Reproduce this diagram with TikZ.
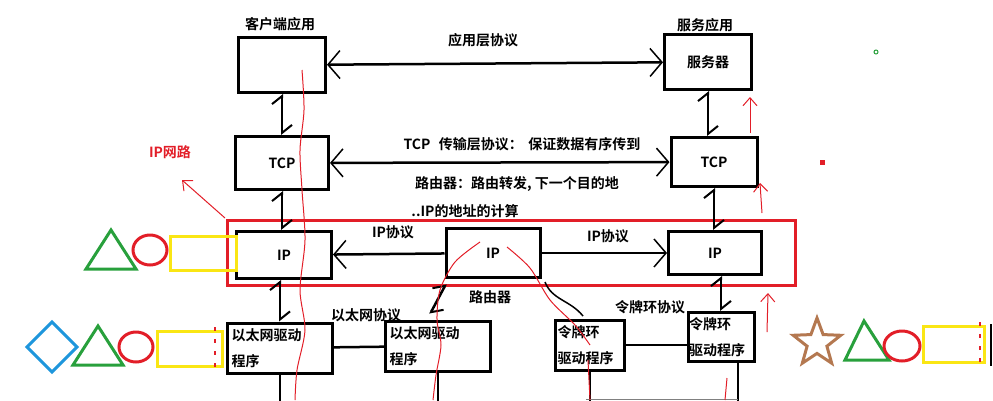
\documentclass[tikz,border=0pt]{standalone}
\usepackage{fontspec}
\setmainfont{Noto Sans CJK SC}[BoldFont={Noto Sans CJK SC Bold}]
\usetikzlibrary{arrows.meta,shapes.geometric}
\definecolor{hred}{RGB}{226,30,40}
\definecolor{hyellow}{RGB}{250,230,20}
\definecolor{hgreen}{RGB}{40,160,60}
\definecolor{hblue}{RGB}{30,150,220}
\definecolor{hbrown}{RGB}{180,120,80}
\newcommand{\lblsize}{\fontsize{14pt}{17pt}\selectfont\bfseries}
\tikzset{
  layer/.style={draw, line width=3pt, inner sep=0pt, font=\lblsize},
  proto/.style={line width=2.5pt, {Straight Barb[length=12pt,width=28pt,line width=1.5pt]}-{Straight Barb[length=12pt,width=28pt,line width=1.5pt]}},
  updown/.style={line width=2.5pt, {Straight Barb[left,length=8pt,width=20pt,line width=2pt]}-{Straight Barb[left,length=8pt,width=20pt,line width=2pt]}},
  lbl/.style={font=\lblsize},
  scribble/.style={hred, line width=1pt},
}
\begin{document}
\begin{tikzpicture}[x=1pt,y=-1pt]
\useasboundingbox (0,0) rectangle (993,400);
            % ip layer frame
            \draw[hred,line width=3pt] (227,220) rectangle (795,285);
            % boxes
            \node[layer,minimum width=87pt,minimum height=55pt] (cli) at (282,65) {};
            \node[layer,minimum width=87pt,minimum height=55pt] (srv) at (708,62) {服务器};
            \node[layer,minimum width=93pt,minimum height=53pt] (tcpL) at (282,163) {TCP};
            \node[layer,minimum width=86pt,minimum height=49pt] (tcpR) at (714,162) {TCP};
            \node[layer,minimum width=95pt,minimum height=47pt] (ipL) at (284,255) {IP};
            \node[layer,minimum width=94pt,minimum height=49pt] (ipM) at (493,253) {IP};
            \node[layer,minimum width=93pt,minimum height=43pt] (ipR) at (715,253) {IP};
            \node[layer,minimum width=105pt,minimum height=50pt,align=left,text width=97pt] (ethA) at (280,348) {以太网驱动\\[9pt]程序};
            \node[layer,minimum width=105pt,minimum height=50pt,align=left,text width=97pt] (ethB) at (438,346) {以太网驱动\\[9pt]程序};
            \node[layer,minimum width=69pt,minimum height=50pt,align=left,text width=65pt] (tokA) at (590,345) {令牌环\\[9pt]驱动程序};
            \node[layer,minimum width=66pt,minimum height=49pt,align=left,text width=64pt] (tokB) at (721,337) {令牌环\\[9pt]驱动程序};
            % labels
            \node[lbl] (cliT) at (280,24) {客户端应用};
            \node[lbl] (srvT) at (705,25) {服务应用};
            \node[lbl] (appP) at (483,40) {应用层协议};
            \node[lbl] (tcpP) at (522,144) {TCP\hspace{0.6em}传输层协议：\hspace{0.4em}保证数据有序传到};
            \node[lbl] (route) at (517,184) {路由器：路由转发, 下一个目的地};
            \node[lbl] (ipAddr) at (465,211) {..IP的地址的计算};
            \node[lbl] (ipP1) at (393,232) {IP协议};
            \node[lbl] (ipP2) at (608,236) {IP协议};
            \node[lbl] (rtr) at (490,297) {路由器};
            \node[lbl] (ethP) at (366,315) {以太网协议};
            \node[lbl] (tokP) at (650,307) {令牌环协议};
            \node[lbl,hred] (ipNet) at (170,152) {IP网路};
            % horizontal protocols
            \draw[proto] (cli) -- (srv);
            \draw[proto] (tcpL) -- (tcpR);
            \draw[line width=2.5pt,-{Straight Barb[length=12pt,width=28pt,line width=1.5pt]}] (ipM) -- (ipL);
            \draw[line width=2.5pt,-{Straight Barb[length=12pt,width=28pt,line width=1.5pt]}] (ipM) -- (ipR);
            \draw[line width=2.5pt] (ethA) -- (ethB);
            \draw[line width=2.5pt] (tokA.east) -- (tokB.west |- tokA.east);
            % vertical links
            \draw[updown] (tcpL.north -| cli.south) -- (cli.south);
            \draw[updown] (ipL.north -| tcpL.south) -- (tcpL.south);
            \draw[updown] (ethA.north) -- (ethA.north |- ipL.south);
            \draw[updown] (tcpR.north -| srv.south) -- (srv.south);
            \draw[updown] (ipR.north -| tcpR.south) -- (tcpR.south);
            \draw[updown] (tokB.north) -- (tokB.north |- ipR.south);
            \coordinate (m1) at (446,284);
            \coordinate (e1) at (430,314);
            \draw[updown] (e1) -- (m1);
            \draw[line width=1.5pt] (545,282) .. controls (552,300) and (570,300) .. (583,316);
            % lines to the bottom
            \draw[line width=2.5pt] (ethA.south) -- ++(0,30);
            \draw[line width=2.5pt] (ethB.south) -- ++(0,30);
            \draw[line width=2.5pt] (tokA.south) -- ++(0,30);
            \draw[line width=2.5pt] (tokB.south) ++(17,0) -- ++(0,40);
            \draw[gray,line width=1pt] (586,399) -- (738,399);
            % red sketch lines
            \draw[scribble] plot[smooth] coordinates {(302,70) (304,110) (300,150) (302,190) (305,240) (300,290) (305,330) (297,370) (295,400)};
            \draw[scribble] plot[smooth] coordinates {(480,242) (455,262) (440,290) (437,320) (441,345) (436,375) (433,400)};
            \draw[scribble] plot[smooth] coordinates {(507,247) (530,268) (550,300) (575,325) (590,345)};
            \draw[scribble] (588,360) -- (590,400);
            \draw[scribble] (727,378) -- (725,400);
            \draw[scribble,-{Straight Barb[length=8pt,width=14pt]}] (ipL.north west) ++(-10,-12) coordinate (r0) -- (182,180);
            \draw[scribble,-{Straight Barb[length=8pt,width=14pt]}] (750,133) -- (750,97);
            \draw[scribble,-{Straight Barb[length=8pt,width=14pt]}] (762,213) -- (760,183);
            \draw[scribble,-{Straight Barb[length=8pt,width=14pt]}] (767,332) -- (768,293);
            \fill[hred] (820,160) rectangle (825,165);
            \draw[hgreen,line width=1pt] (876,52) circle (2pt);
            % shapes on the left
            \draw[hgreen,line width=3pt] (86,269) -- (111,230) -- (136,269) -- cycle;
            \draw[hred,line width=3pt] (150,250) ellipse (17pt and 15pt);
            \draw[hyellow,line width=3pt] (170,236) rectangle (236,270);
            \draw[hblue,line width=3pt] (52,322) -- (77,347) -- (52,372) -- (27,347) -- cycle;
            \draw[hgreen,line width=3pt] (73,365) -- (98,326) -- (123,365) -- cycle;
            \draw[hred,line width=3pt] (136,347) ellipse (17pt and 15pt);
            \draw[hyellow,line width=3pt] (157,331) rectangle (222,366);
            \draw[hred,line width=2pt,dash pattern=on 4pt off 8pt] (215,327) -- (215,368);
            % shapes on the right
            \node[star,star points=5,star point ratio=2.4,draw=hbrown,line width=3pt,minimum size=50pt,inner sep=0pt] (st) at (817,343) {};
            \draw[hgreen,line width=3pt] (845,360) -- (864,321) -- (889,360) -- cycle;
            \draw[hred,line width=3pt] (902,346) ellipse (18pt and 15pt);
            \draw[hyellow,line width=3pt] (923,326) rectangle (984,362);
            \draw[hred,line width=2pt,dash pattern=on 4pt off 8pt] (980,322) -- (980,366);
            \draw[line width=2pt] (991,324) -- (991,366);
\end{tikzpicture}
\end{document}
